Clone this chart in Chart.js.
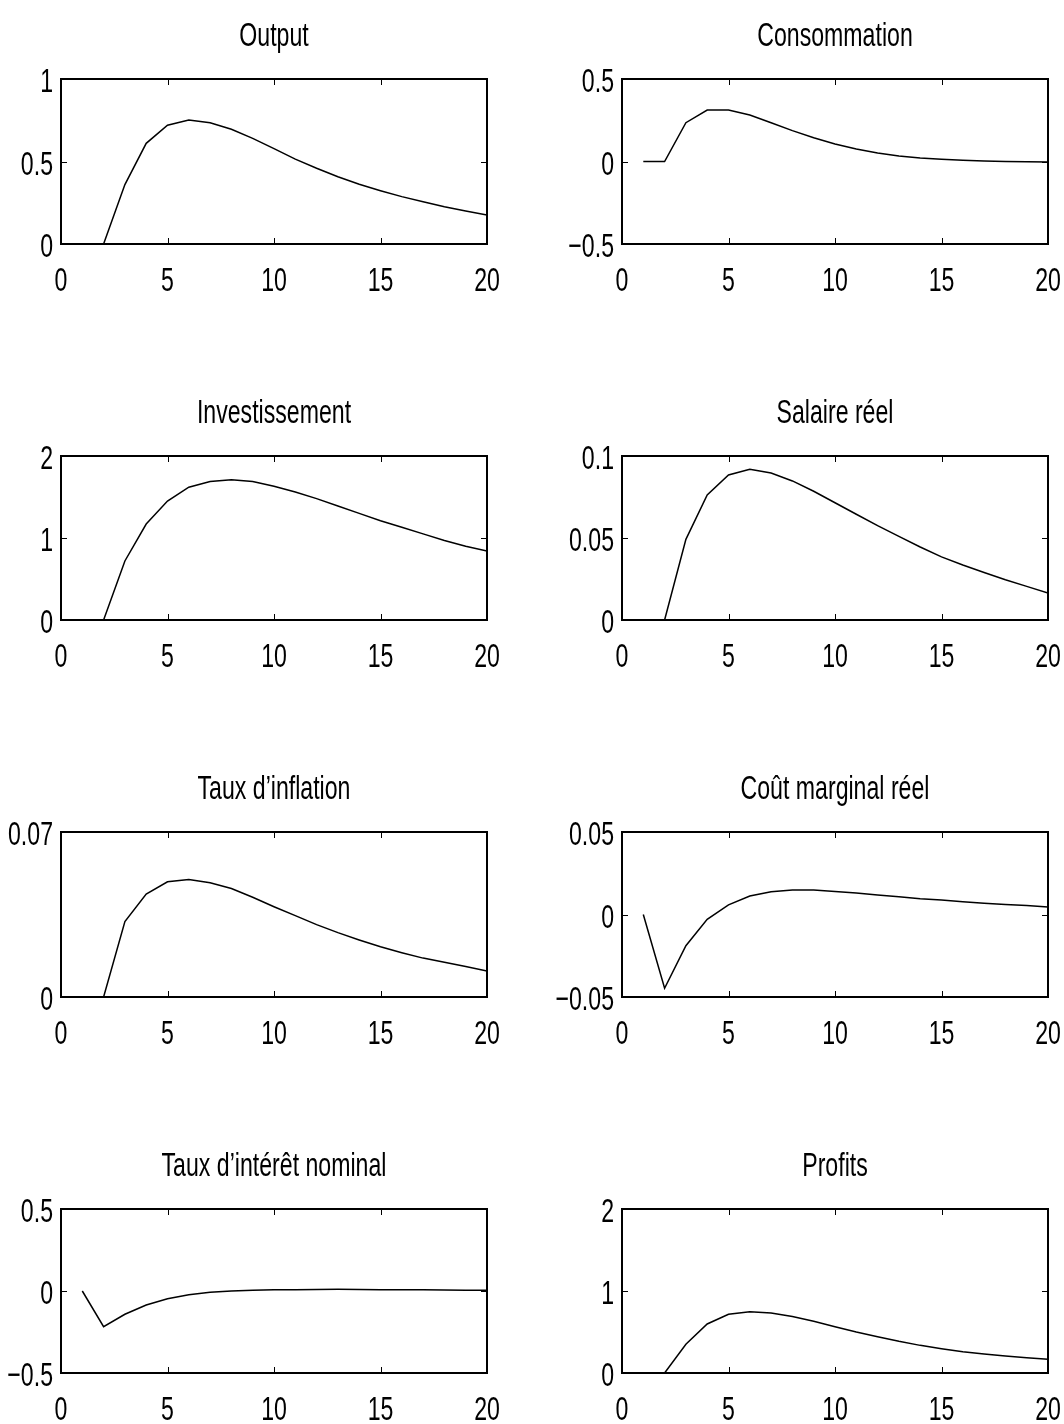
<!DOCTYPE html>
<html>
<head>
<meta charset="utf-8">
<script src="https://cdn.jsdelivr.net/npm/chart.js@4.4.0/dist/chart.umd.min.js"></script>
<style>
  html, body { margin: 0; padding: 0; background: #fff; }
  #figure { position: relative; width: 1064px; height: 1424px; overflow: hidden; }
  #figure canvas { position: absolute; }
</style>
</head>
<body>
<div id="figure"></div>
<script>
// impulse responses, periods 1..20
const periods = [1, 2, 3, 4, 5, 6, 7, 8, 9, 10, 11, 12, 13, 14, 15, 16, 17, 18, 19, 20];
const xTicks = [0, 5, 10, 15, 20];

const titles = ['Output', 'Consommation', 'Investissement', 'Salaire réel',
  'Taux d\u2019inflation', 'Coût marginal réel', 'Taux d\u2019intérêt nominal', 'Profits'];

const output = [0, 0, 0.36, 0.61, 0.72, 0.752, 0.735, 0.695, 0.64, 0.578, 0.514, 0.459, 0.408, 0.362, 0.323, 0.287, 0.256, 0.226, 0.2, 0.176];
const consommation = [0, 0, 0.235, 0.312, 0.312, 0.282, 0.235, 0.187, 0.144, 0.106, 0.076, 0.052, 0.033, 0.021, 0.013, 0.007, 0.003, 0, -0.002, -0.003];
const investissement = [0, 0, 0.72, 1.17, 1.45, 1.62, 1.69, 1.71, 1.69, 1.63, 1.56, 1.48, 1.39, 1.3, 1.21, 1.13, 1.05, 0.97, 0.9, 0.84];
const salaireReel = [0, 0, 0.0492, 0.0762, 0.0884, 0.0919, 0.0896, 0.0848, 0.0785, 0.0715, 0.0645, 0.0575, 0.051, 0.0445, 0.0385, 0.0335, 0.029, 0.0245, 0.0205, 0.0165];
const inflation = [0, 0, 0.032, 0.0437, 0.0489, 0.0498, 0.0485, 0.046, 0.0423, 0.0383, 0.0345, 0.0307, 0.0273, 0.0242, 0.0213, 0.0188, 0.0165, 0.0147, 0.0129, 0.011];
const coutMarginal = [0, -0.0447, -0.0189, -0.0029, 0.0058, 0.0112, 0.0138, 0.0148, 0.0148, 0.014, 0.013, 0.0118, 0.0108, 0.0096, 0.0088, 0.0078, 0.0068, 0.006, 0.0054, 0.0046];
const tauxNominal = [0, -0.218, -0.142, -0.085, -0.047, -0.023, -0.008, 0, 0.004, 0.007, 0.008, 0.009, 0.01, 0.009, 0.008, 0.008, 0.007, 0.006, 0.005, 0.004];
const profits = [0, 0, 0.35, 0.598, 0.716, 0.748, 0.732, 0.69, 0.63, 0.565, 0.5, 0.443, 0.386, 0.337, 0.297, 0.26, 0.232, 0.207, 0.187, 0.167];

const series = [output, consommation, investissement, salaireReel, inflation, coutMarginal, tauxNominal, profits];
const yTicks = [
  [0, 0.5, 1], [-0.5, 0, 0.5],
  [0, 1, 2], [0, 0.05, 0.1],
  [0, 0.07], [-0.05, 0, 0.05],
  [-0.5, 0, 0.5], [0, 1, 2]
];

// panel placement
const colLeft = [0, 532];
const colPadding = [{ left: 61, right: 45 }, { left: 90, right: 16 }];
const rowTop = [0, 377, 753, 1130];
const rowFrame = [165, 164, 165, 164];
const CANVAS_W = 532, CANVAS_H = 294, FRAME_TOP = 79;

const FONT = '34px "Liberation Sans", Arial, Helvetica, sans-serif';
const SQUEEZE = 0.68;

function squeezedText(ctx, text, x, y, align) {
  ctx.save();
  ctx.translate(x, y);
  ctx.scale(SQUEEZE, 1);
  ctx.textAlign = align;
  ctx.textBaseline = 'alphabetic';
  ctx.fillText(text, 0, 0);
  ctx.restore();
}

const fmt = v => String(v).replace('-', '\u2212');

// boxed axes with inward ticks, labels and title
const matlabAxes = {
  id: 'matlabAxes',
  afterDatasetsDraw(chart, args, opts) {
    const { ctx, chartArea: a } = chart;
    const x = chart.scales.x, y = chart.scales.y;
    ctx.save();
    ctx.strokeStyle = '#000';
    ctx.fillStyle = '#000';
    ctx.font = FONT;

    ctx.lineWidth = 1;
    ctx.beginPath();
    x.ticks.forEach(t => {
      if (t.value <= x.min || t.value >= x.max) return;
      const px = Math.round(x.getPixelForValue(t.value)) + 0.5;
      ctx.moveTo(px, a.bottom); ctx.lineTo(px, a.bottom - 6);
      ctx.moveTo(px, a.top); ctx.lineTo(px, a.top + 6);
    });
    y.ticks.forEach(t => {
      if (t.value <= y.min || t.value >= y.max) return;
      const py = Math.round(y.getPixelForValue(t.value)) + 0.5;
      ctx.moveTo(a.left, py); ctx.lineTo(a.left + 6, py);
      ctx.moveTo(a.right, py); ctx.lineTo(a.right - 6, py);
    });
    ctx.stroke();

    ctx.lineWidth = 2;
    ctx.strokeRect(a.left, a.top, a.right - a.left, a.bottom - a.top);

    x.ticks.forEach(t => squeezedText(ctx, fmt(t.value), x.getPixelForValue(t.value), a.bottom + 47, 'center'));
    y.ticks.forEach(t => squeezedText(ctx, fmt(t.value), a.left - 8, y.getPixelForValue(t.value) + 13, 'right'));
    squeezedText(ctx, opts.text, (a.left + a.right) / 2, a.top - 33, 'center');
    ctx.restore();
  }
};

const figure = document.getElementById('figure');

series.forEach((values, i) => {
  const col = i % 2, row = Math.floor(i / 2);
  const canvas = document.createElement('canvas');
  canvas.width = CANVAS_W;
  canvas.height = CANVAS_H;
  canvas.style.left = colLeft[col] + 'px';
  canvas.style.top = rowTop[row] + 'px';
  figure.appendChild(canvas);

  const ticksY = yTicks[i];
  new Chart(canvas, {
    type: 'line',
    data: {
      datasets: [{
        data: periods.map((p, k) => ({ x: p, y: values[k] })),
        borderColor: '#000',
        borderWidth: 1.5,
        pointRadius: 0,
        tension: 0,
        fill: false
      }]
    },
    options: {
      responsive: false,
      animation: false,
      devicePixelRatio: 1,
      layout: {
        padding: {
          top: FRAME_TOP,
          bottom: CANVAS_H - FRAME_TOP - rowFrame[row],
          left: colPadding[col].left,
          right: colPadding[col].right
        }
      },
      scales: {
        x: {
          type: 'linear', display: false, min: 0, max: 20,
          afterBuildTicks: s => { s.ticks = xTicks.map(v => ({ value: v })); }
        },
        y: {
          type: 'linear', display: false,
          min: ticksY[0], max: ticksY[ticksY.length - 1],
          afterBuildTicks: s => { s.ticks = ticksY.map(v => ({ value: v })); }
        }
      },
      plugins: {
        legend: { display: false },
        tooltip: { enabled: false },
        matlabAxes: { text: titles[i] }
      }
    },
    plugins: [matlabAxes]
  });
});
</script>
</body>
</html>
